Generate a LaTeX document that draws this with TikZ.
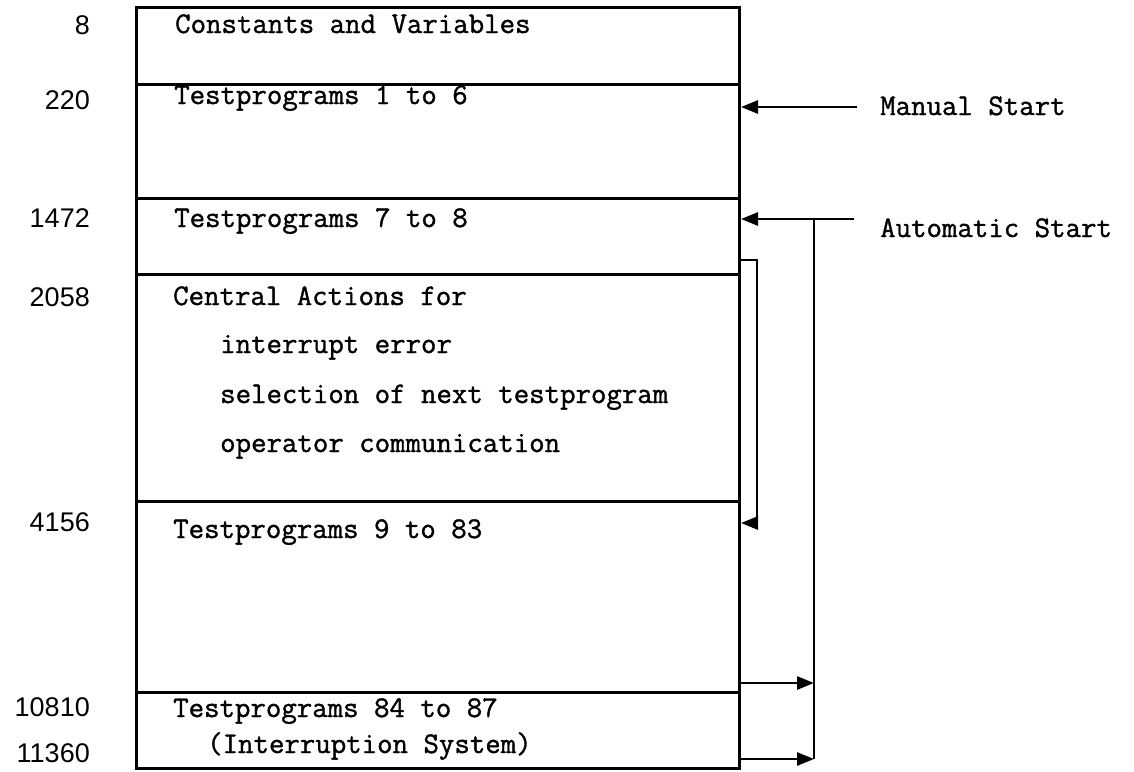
\documentclass[tikz,border=0pt]{standalone}
\usepackage{fontspec}
\newfontfamily\numfont{Liberation Sans}
\newfontfamily\twfont{Latin Modern Mono}[FakeBold=1.2]
\usetikzlibrary{arrows.meta}
\begin{document}
\begin{tikzpicture}[x=1pt,y=-1pt,
  section/.style={draw, line width=3pt, rectangle, anchor=north west, inner sep=0pt, minimum width=603pt},
  boxtext/.style={anchor=base west, inner sep=0pt, font=\twfont\fontsize{30}{36}\selectfont},
  addr/.style={anchor=east, inner sep=0pt, font=\numfont\fontsize{27}{32}\selectfont},
  conn/.style={line width=2.8pt},
  arr/.style={conn, -{Triangle[length=17pt,width=13pt]}}]
\useasboundingbox (0,0) rectangle (1134,771);
% sections
\node[section, minimum height=77pt]  (s1) at (135,6)   {};
\node[section, minimum height=114pt] (s2) at (135,83)  {};
\node[section, minimum height=76pt]  (s3) at (135,197) {};
\node[section, minimum height=227pt] (s4) at (135,273) {};
\node[section, minimum height=191pt] (s5) at (135,500) {};
\node[section, minimum height=76pt]  (s6) at (135,691) {};
% texts
\node[boxtext] (t1) at (175,33)  {Constants and Variables};
\node[boxtext] (t2) at (174,104) {Testprograms 1 to 6};
\node[boxtext] (t3) at (174,227) {Testprograms 7 to 8};
\node[boxtext] (t4) at (173,305) {Central Actions for};
\node[boxtext] (t5) at (220,353) {interrupt error};
\node[boxtext] (t6) at (220,403) {selection of next testprogram};
\node[boxtext] (t7) at (220,452) {operator communication};
\node[boxtext] (t8) at (173,538) {Testprograms 9 to 83};
\node[boxtext] (t9) at (173,717) {Testprograms 84 to 87};
\node[boxtext] (t10) at (207,753) {(Interruption System)};
% addresses
\node[addr] (a1) at (90,25)  {8};
\node[addr] (a2) at (90,100) {220};
\node[addr] (a3) at (90,218) {1472};
\node[addr] (a4) at (90,297) {2058};
\node[addr] (a5) at (90,522) {4156};
\node[addr] (a6) at (90,707) {10810};
\node[addr] (a7) at (90,753) {11360};
% start labels
\node[boxtext] (ms) at (880,115) {Manual Start};
\node[boxtext] (as) at (880,237) {Automatic Start};
% connectors
\coordinate (mstart) at (857,107);
\coordinate (astart) at (854,219);
\draw[arr] (mstart) -- (mstart -| s2.east);
\draw[arr] (astart) -- (astart -| s3.east);
\coordinate (j1) at (814,219);
\coordinate (j2) at (814,683);
\coordinate (j3) at (814,759);
\draw[conn] (j1) -- (j3);
\draw[arr] (j2 -| s5.east) -- (j2);
\draw[arr] (j3 -| s6.east) -- (j3);
\coordinate (l1) at (757,260);
\coordinate (l2) at (757,523);
\draw[arr] (l1 -| s3.east) -- (l1) -- (l2) -- (l2 -| s5.east);
\end{tikzpicture}
\end{document}
